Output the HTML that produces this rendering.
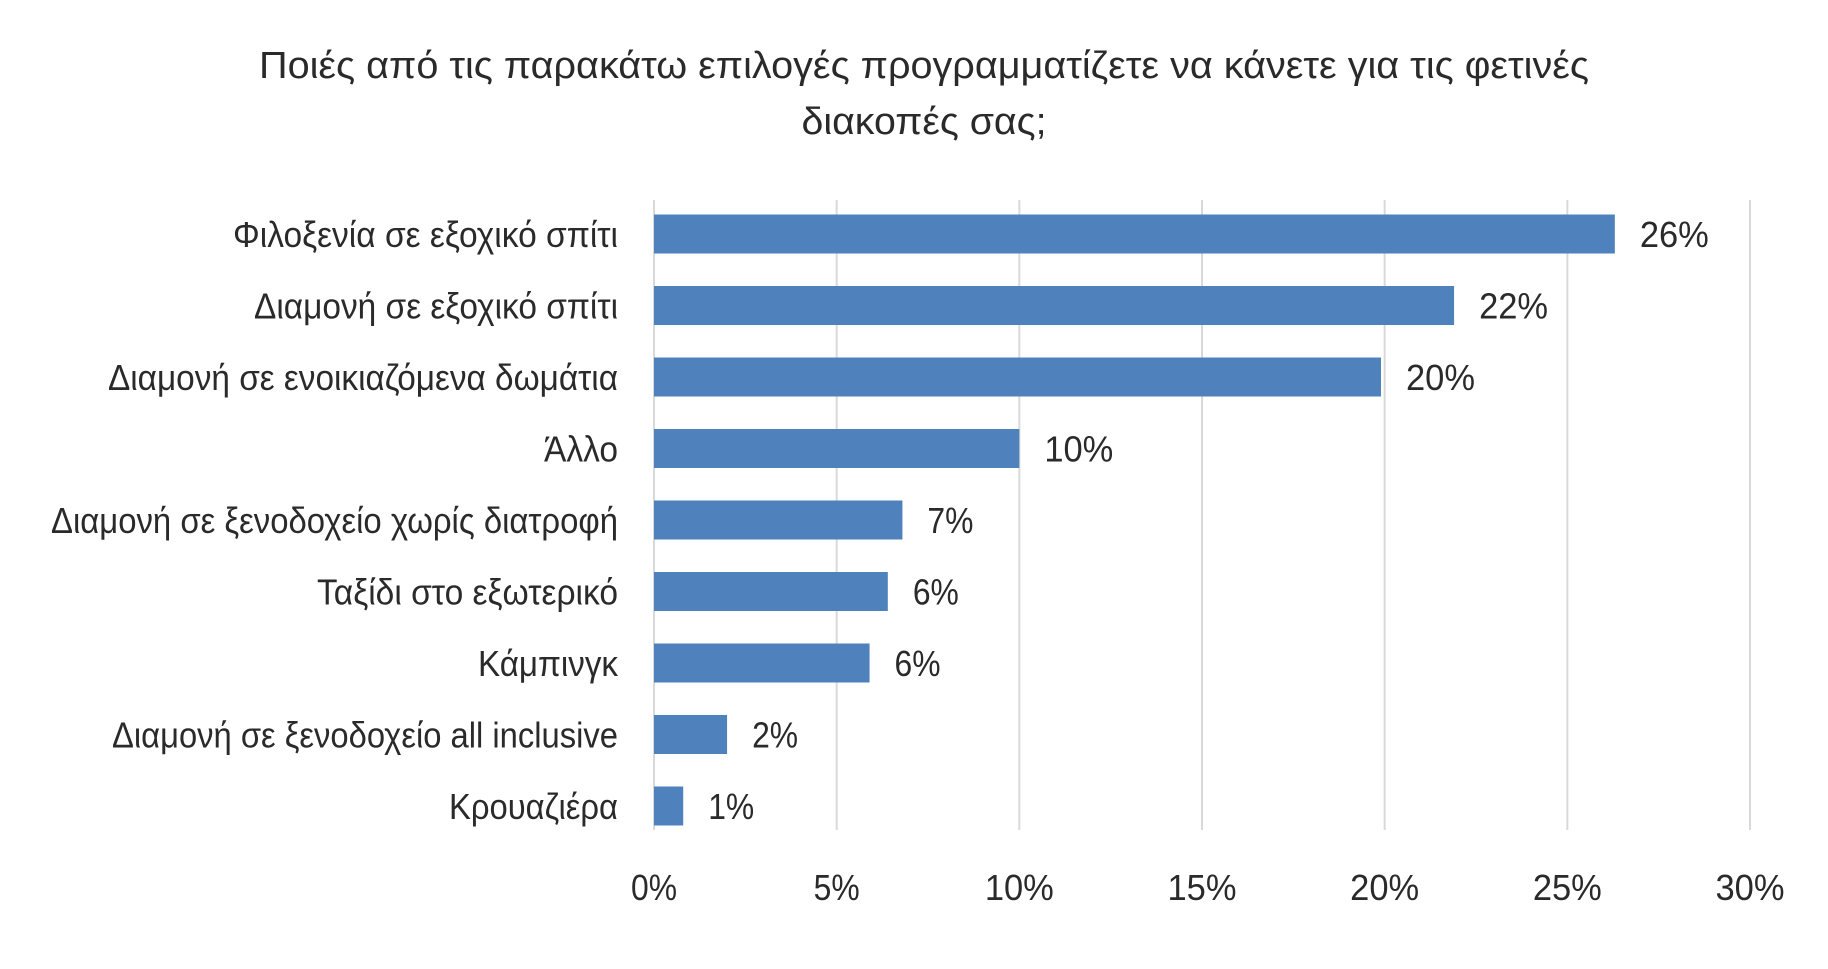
<!DOCTYPE html>
<html><head><meta charset="utf-8"><style>
html,body{margin:0;padding:0;background:#fff;}
svg text{font-family:"Liberation Sans","DejaVu Sans",sans-serif;fill:#2a2a2a;}
</style></head><body>
<svg id="chart" width="1828" height="964" viewBox="0 0 1828 964" xmlns="http://www.w3.org/2000/svg">
<text x="924" y="78" font-size="38" text-anchor="middle" textLength="1330" lengthAdjust="spacingAndGlyphs">Ποιές από τις παρακάτω επιλογές προγραμματίζετε  να κάνετε για τις φετινές</text>
<text x="924" y="134" font-size="38" text-anchor="middle" textLength="245" lengthAdjust="spacingAndGlyphs">διακοπές σας;</text>
<g id="grid"></g><g id="bars"></g>
</svg>
<script>
const categories=["Φιλοξενία σε εξοχικό σπίτι","Διαμονή σε εξοχικό σπίτι","Διαμονή σε ενοικιαζόμενα δωμάτια","Άλλο","Διαμονή σε ξενοδοχείο  χωρίς διατροφή","Ταξίδι  στο εξωτερικό","Κάμπινγκ","Διαμονή σε ξενοδοχείο  all inclusive","Κρουαζιέρα"];
const values=[26.3,21.9,19.9,10,6.8,6.4,5.9,2,0.8];
const valueLabels=["26%","22%","20%","10%","7%","6%","6%","2%","1%"];
const ticks=[0,5,10,15,20,25,30];
const tickLabels=["0%","5%","10%","15%","20%","25%","30%"];
const labelWidths=[385,364,510,74,567,301,140,506,169];
const NS="http://www.w3.org/2000/svg";
const x0=654,x1=1750,xmax=30,yTop=200,yBot=830,cy0=234,step=71.5,bh=39;
const xs=v=>x0+(x1-x0)*v/xmax;
const ys=i=>cy0+i*step;
const grid=document.getElementById('grid'),bars=document.getElementById('bars');
function mk(tag,attrs,parent){const e=document.createElementNS(NS,tag);for(const k in attrs)e.setAttribute(k,attrs[k]);parent.appendChild(e);return e;}
ticks.forEach((t,i)=>{
  const l=mk('line',{x1:xs(t),x2:xs(t),y1:yTop,y2:yBot,stroke:'#d9d9d9','stroke-width':2},grid);
  
  
  const tx=mk('text',{x:xs(t),y:900,'font-size':36,'text-anchor':'middle',textLength:tickLabels[i].length*23,lengthAdjust:'spacingAndGlyphs'},grid);
  tx.textContent=tickLabels[i];
  
  
});
categories.forEach((c,i)=>{
  const y=ys(i);
  const r=mk('rect',{x:x0,y:y-bh/2,width:xs(values[i])-x0,height:bh,fill:'#4f81bd'},bars);
  
  
  const cl=mk('text',{x:618,y:y+13,'font-size':36,'text-anchor':'end',textLength:labelWidths[i],lengthAdjust:'spacingAndGlyphs'},bars);
  cl.textContent=c;
  
  
  const vl=mk('text',{x:xs(values[i])+25,y:y+13,'font-size':36,textLength:valueLabels[i].length*23,lengthAdjust:'spacingAndGlyphs'},bars);
  vl.textContent=valueLabels[i];
  
  
});
</script>
</body></html>
